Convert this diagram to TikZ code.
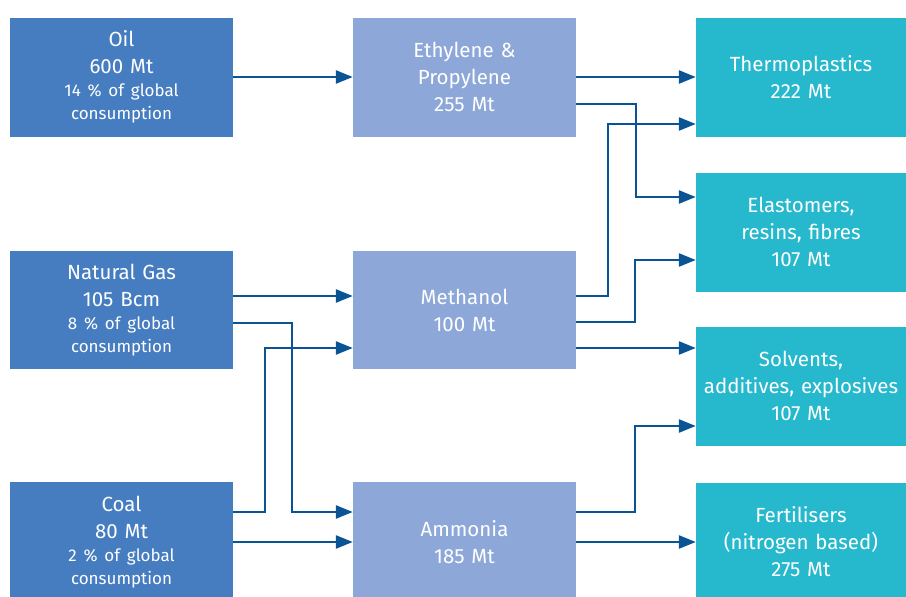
\documentclass[tikz,border=0pt]{standalone}
\usepackage{fontspec}
\setmainfont{Fira Sans}
\usepackage{tikz}
\usetikzlibrary{arrows.meta}
\newcommand\bigtxt{\fontsize{20.5}{27}\selectfont}
\newcommand\smalltxt{\fontsize{17}{23}\selectfont}
\definecolor{box_src}{RGB}{70,125,192}
\definecolor{box_mid}{RGB}{141,168,216}
\definecolor{box_out}{RGB}{38,184,204}
\definecolor{edge_blue}{RGB}{10,83,148}

\begin{document}
\begin{tikzpicture}[x=1pt,y=-1pt]
    \tikzstyle{stage}=[rectangle, inner sep=0pt, text=white, align=center, font=\bigtxt]
    \tikzstyle{source}=[style=stage, fill=box_src, text width=223pt, minimum height=119pt]
    \tikzstyle{product}=[style=stage, fill=box_mid, text width=223pt, minimum height=119pt]
    \tikzstyle{usage}=[style=stage, fill=box_out, text width=210pt, minimum height=119pt]
    \tikzstyle{flow}=[draw=edge_blue, line width=2.5pt, -{Triangle[length=17pt,width=13pt]}]

    \clip (0,0) rectangle (906,597);

    % raw materials
    \node[source] (oil)  at (121.5,77) {{Oil\\600 Mt\par}{\smalltxt 14~\% of global\\consumption\par}};
    \node[source, minimum height=118pt] (gas) at (121.5,310) {{Natural Gas\\105 Bcm\par}{\smalltxt 8~\% of global\\consumption\par}};
    \node[source, minimum height=120pt] (coal) at (121.5,542) {{Coal\\80 Mt\par}{\smalltxt 2~\% of global\\consumption\par}};

    % intermediates
    \node[product] (eth) at (464.5,77) {Ethylene \&\\Propylene\\255 Mt};
    \node[product, minimum height=118pt] (meth) at (464.5,310) {Methanol\\100 Mt};
    \node[product, minimum height=120pt] (amm) at (464.5,542) {Ammonia\\185 Mt};

    % end uses
    \node[usage] (thermo) at (801,77)  {Thermoplastics\\222 Mt};
    \node[usage] (elast)  at (801,232) {Elastomers,\\resins, fibres\\107 Mt};
    \node[usage] (solv)   at (801,386) {Solvents,\\additives, explosives\\107 Mt};
    \node[usage] (fert)   at (801,542) {Fertilisers\\(nitrogen based)\\275 Mt};

    % flows
    \draw[flow] (oil) -- (eth);
    \draw[flow] (eth) -- (thermo);
    \draw[flow] ([yshift=-27pt]eth.east) -- ++(60,0) |- ([yshift=35pt]elast.west);
    \draw[flow] ([yshift=14pt]meth.east) -- ++(32,0) |- ([yshift=-47pt]thermo.west);
    \draw[flow] ([yshift=-12pt]meth.east) -- ++(59,0) |- ([yshift=-28pt]elast.west);
    \draw[flow] ([yshift=-38pt]meth.east) -- ([yshift=38pt]solv.west);
    \draw[flow] ([yshift=30pt]amm.east) -- ++(59,0) |- ([yshift=-40pt]solv.west);
    \draw[flow] (amm) -- (fert);
    \draw[flow] ([yshift=14pt]gas.east) -- ([yshift=14pt]meth.west);
    \draw[flow] ([yshift=-13pt]gas.east) -- ++(59,0) |- ([yshift=30pt]amm.west);
    \draw[flow] ([yshift=30pt]coal.east) -- ++(32,0) |- ([yshift=-38pt]meth.west);
    \draw[flow] (coal) -- (amm);
\end{tikzpicture}
\end{document}
